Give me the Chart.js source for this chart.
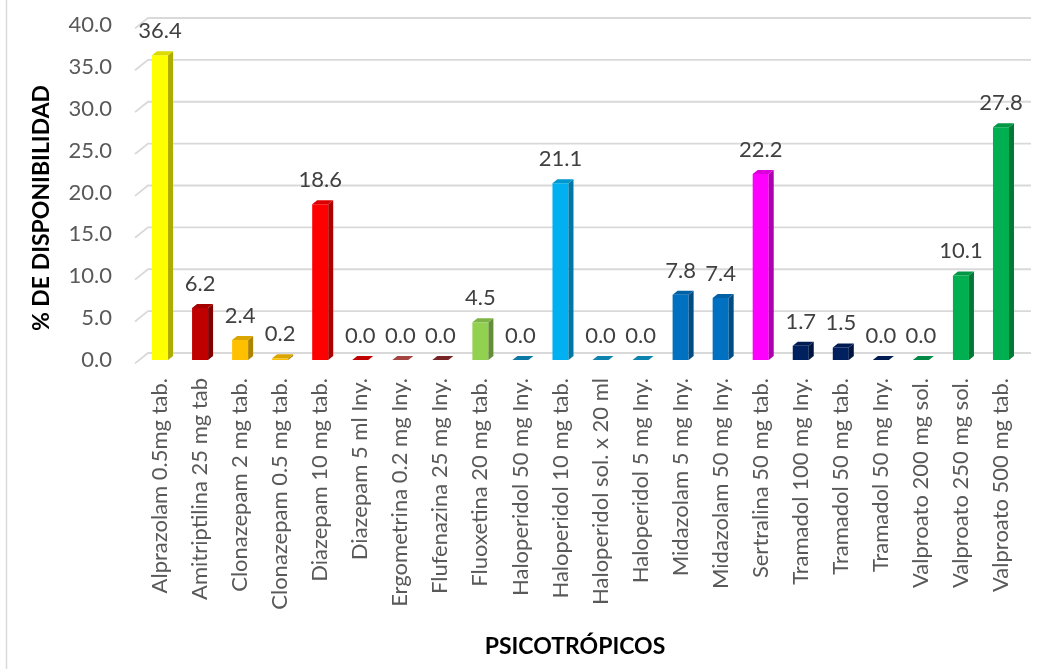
<!DOCTYPE html>
<html>
<head>
<meta charset="utf-8">
<script src="https://cdn.jsdelivr.net/npm/chart.js@4"></script>
<style>
  html, body { margin: 0; padding: 0; background: #fff; }
  #wrap { width: 1057px; height: 669px; position: relative; }
</style>
</head>
<body>
<div id="wrap"><canvas id="grafico"></canvas></div>
<script>
const categorias = [
    'Alprazolam 0.5mg tab.', 'Amitriptilina 25 mg tab', 'Clonazepam 2 mg tab.',
    'Clonazepam 0.5 mg tab.', 'Diazepam 10 mg tab.', 'Diazepam 5 ml Iny.',
    'Ergometrina 0.2 mg Iny.', 'Flufenazina 25 mg Iny.', 'Fluoxetina 20 mg tab.',
    'Haloperidol 50 mg Iny.', 'Haloperidol 10 mg tab.', 'Haloperidol sol. x 20 ml',
    'Haloperidol 5 mg Iny.', 'Midazolam 5 mg Iny.', 'Midazolam 50 mg Iny.',
    'Sertralina 50 mg tab.', 'Tramadol 100 mg Iny.', 'Tramadol 50 mg tab.',
    'Tramadol 50 mg Iny.', 'Valproato 200 mg sol.', 'Valproato 250 mg sol.',
    'Valproato 500 mg tab.'
];
const disponibilidad = [36.4, 6.2, 2.4, 0.2, 18.6, 0.0, 0.0, 0.0, 4.5, 0.0, 21.1,
    0.0, 0.0, 7.8, 7.4, 22.2, 1.7, 1.5, 0.0, 0.0, 10.1, 27.8];
const colores = ['#FFFF00', '#C00000', '#FFC000', '#FFC000', '#FF0000', '#E00000',
    '#C0504D', '#8B2A2A', '#92D050', '#0E8CC0', '#00B0F0', '#0E9ACB', '#0E9ACB',
    '#0070C0', '#0070C0', '#FF00FF', '#002060', '#002060', '#002060', '#00A050',
    '#00B050', '#00B050'];
const ticksY = [0, 5, 10, 15, 20, 25, 30, 35, 40];

const fuente = 'Lato, "Open Sans", sans-serif';
const prof = { dx: 5, dy: 4 };       // profundidad de las barras
const pared = { dx: 8, dy: 7 };      // desplazamiento de la pared del fondo

function sombra(hex, f) {
    const n = parseInt(hex.slice(1), 16);
    const r = Math.round(((n >> 16) & 255) * f);
    const g = Math.round(((n >> 8) & 255) * f);
    const b = Math.round((n & 255) * f);
    return `rgb(${r},${g},${b})`;
}

// Rejilla de fondo con los trazos diagonales del piso
const rejilla3D = {
    id: 'rejilla3D',
    beforeDatasetsDraw(chart) {
        const { ctx, chartArea, scales } = chart;
        ctx.save();
        ctx.strokeStyle = '#d9d9d9';
        ctx.lineWidth = 1.8;
        ticksY.forEach(v => {
            const y = scales.y.getPixelForValue(v);
            ctx.beginPath();
            ctx.moveTo(chartArea.left - 5, y + 3.4);
            ctx.lineTo(chartArea.left + pared.dx, y - pared.dy);
            ctx.lineTo(chartArea.right + pared.dx + 2, y - pared.dy);
            ctx.stroke();
        });
        // borde del area del grafico
        ctx.lineWidth = 1.5;
        ctx.beginPath();
        ctx.moveTo(6.5, 0);
        ctx.lineTo(6.5, chart.height);
        ctx.stroke();
        ctx.restore();
    },
    afterDatasetsDraw(chart) {
        const { ctx } = chart;
        const meta = chart.getDatasetMeta(0);
        ctx.save();
        meta.data.forEach((bar, i) => {
            const c = colores[i];
            const l = bar.x - bar.width / 2;
            const r = bar.x + bar.width / 2;
            const t = bar.y;
            const b = bar.base;
            // cara lateral
            ctx.fillStyle = sombra(c, 0.68);
            ctx.beginPath();
            ctx.moveTo(r, t);
            ctx.lineTo(r + prof.dx, t - prof.dy);
            ctx.lineTo(r + prof.dx, b - prof.dy);
            ctx.lineTo(r, b);
            ctx.closePath();
            ctx.fill();
            // cara superior
            ctx.fillStyle = sombra(c, 0.86);
            ctx.beginPath();
            ctx.moveTo(l, t);
            ctx.lineTo(r, t);
            ctx.lineTo(r + prof.dx, t - prof.dy);
            ctx.lineTo(l + prof.dx, t - prof.dy);
            ctx.closePath();
            ctx.fill();
            // etiqueta de valor
            ctx.fillStyle = '#404040';
            ctx.font = `22px ${fuente}`;
            ctx.textAlign = 'center';
            ctx.textBaseline = 'alphabetic';
            ctx.fillText(disponibilidad[i].toFixed(1), bar.x, t - 17);
        });
        ctx.restore();
    },
    afterDraw(chart) {
        const { ctx } = chart;
        ctx.save();
        ctx.fillStyle = '#000';
        ctx.font = `bold 23px ${fuente}`;
        ctx.textAlign = 'center';
        ctx.textBaseline = 'middle';
        ctx.fillText('PSICOTRÓPICOS', 575, 647);
        ctx.translate(42, 208);
        ctx.rotate(-Math.PI / 2);
        ctx.fillText('% DE DISPONIBILIDAD', 0, 0);
        ctx.restore();
    }
};

new Chart(document.getElementById('grafico'), {
    type: 'bar',
    data: {
        labels: categorias,
        datasets: [{
            data: disponibilidad,
            backgroundColor: colores,
            borderWidth: 0,
            barPercentage: 0.8,
            categoryPercentage: 0.5
        }]
    },
    options: {
        responsive: true,
        maintainAspectRatio: false,
        animation: false,
        layout: { padding: { top: 25, right: 36, left: 0, bottom: 0 } },
        plugins: {
            legend: { display: false },
            tooltip: { enabled: false }
        },
        scales: {
            x: {
                grid: { display: false, drawTicks: false },
                border: { display: false },
                ticks: {
                    color: '#595959',
                    font: { family: fuente, size: 22 },
                    minRotation: 90,
                    maxRotation: 90,
                    autoSkip: false,
                    padding: 18
                },
                afterFit(scale) { scale.height = 309; }
            },
            y: {
                min: 0,
                max: 40,
                grid: { display: false, drawTicks: false },
                border: { display: false },
                ticks: {
                    stepSize: 5,
                    color: '#595959',
                    font: { family: fuente, size: 22 },
                    padding: 28,
                    callback: v => v.toFixed(1)
                },
                afterFit(scale) {
                    scale.width = 140;
                    scale.paddingTop = 0;
                    scale.paddingBottom = 0;
                }
            }
        }
    },
    plugins: [rejilla3D]
});
</script>
</body>
</html>
